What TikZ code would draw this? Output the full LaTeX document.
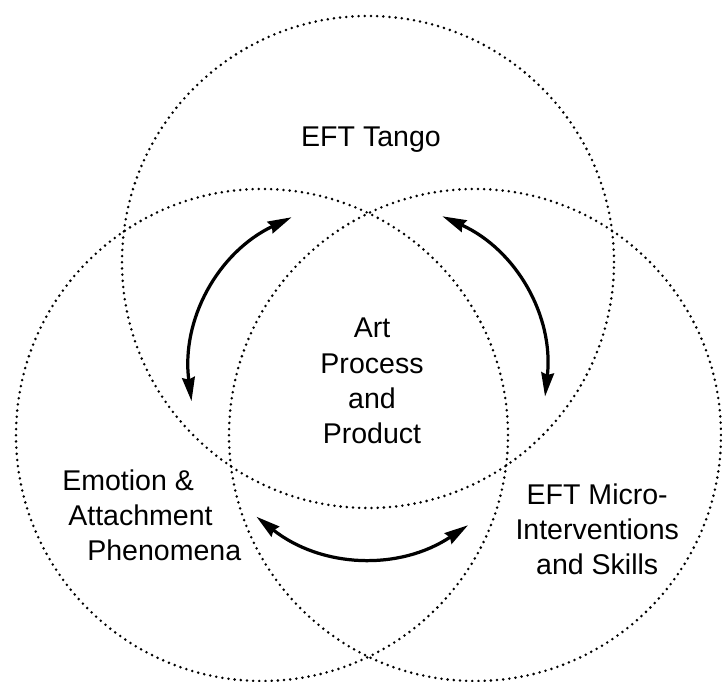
\documentclass[tikz,border=0pt]{standalone}
\usepackage{fontspec}
\setmainfont{Liberation Sans}
\usetikzlibrary{arrows.meta}
\begin{document}
\begin{tikzpicture}
        % Define styles
        \tikzset{
            setcircle/.style={circle, draw, minimum size=12.3cm, inner sep=0pt, line width=2pt, dash pattern=on 0pt off 4.4pt, line cap=round},
            txt/.style={font=\fontsize{20.3}{25}\selectfont, inner sep=0pt, align=center},
            arrow/.style={{Stealth[length=17pt,width=9pt,inset=1.5pt]}-{Stealth[length=17pt,width=9pt,inset=1.5pt]}, line width=2.3pt}
        }
        \useasboundingbox (0,0) rectangle (18.05,17.025);

        % Circles
        \node[setcircle] (set_tango) at (9.2,10.475) {};
        \node[setcircle] (set_emotion) at (6.55,6.15) {};
        \node[setcircle] (set_micro) at (11.875,6.15) {};

        % Labels
        \node[txt, anchor=base] (text_tango) at (9.275,13.35) {EFT Tango};
        \node[txt] (text_art) at (9.3,7.5) {Art\\Process\\and\\Product};
        \node[txt, anchor=west, align=left] (text_emotion) at (1.55,4.14) {Emotion \&\\\hspace*{0.15cm}Attachment\\\hspace*{0.625cm}Phenomena};
        \node[txt] (text_micro) at (14.93,3.79) {EFT Micro-\\Interventions\\and Skills};

        % Arrow ends
        \coordinate (hub) at (9.2,7.575);
        \coordinate (tango_left) at ([shift={(115.4:4.45)}]hub);
        \coordinate (emotion_top) at ([shift={(187.5:4.45)}]hub);
        \coordinate (emotion_right) at ([shift={(231.2:4.45)}]hub);
        \coordinate (micro_left) at ([shift={(304.2:4.45)}]hub);
        \coordinate (micro_top) at ([shift={(-6:4.45)}]hub);
        \coordinate (tango_right) at ([shift={(65.3:4.45)}]hub);

        % Arrows
        \draw[arrow] (tango_left) to[bend right=36] (emotion_top);
        \draw[arrow] (emotion_right) to[bend right=36] (micro_left);
        \draw[arrow] (micro_top) to[bend right=36] (tango_right);
\end{tikzpicture}
\end{document}
